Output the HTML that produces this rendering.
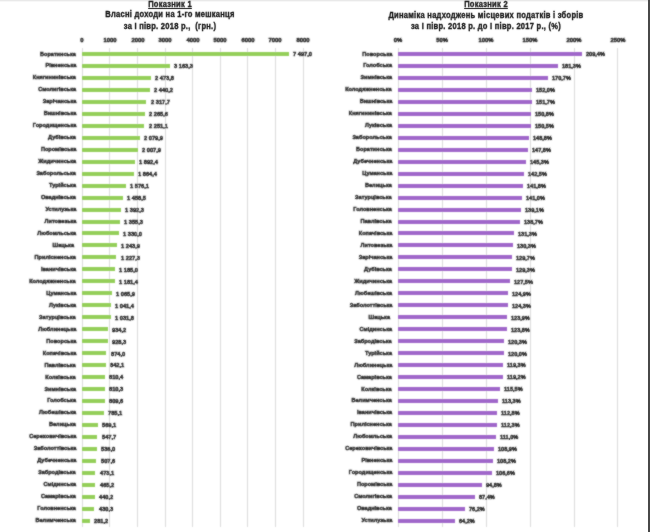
<!DOCTYPE html><html><head><meta charset="utf-8"><style>
html,body{margin:0;padding:0;background:#fff;}
body{width:650px;height:532px;position:relative;overflow:hidden;font-family:"Liberation Sans",sans-serif;}
#w{position:absolute;left:0;top:0;width:650px;height:532px;filter:url(#fb);}
#w2{position:absolute;left:0;top:0;width:650px;height:40px;filter:url(#fb2);}
.t{position:absolute;white-space:pre;font-weight:bold;color:#2b2b2b;line-height:1;-webkit-text-stroke:0.45px #2b2b2b;}
.c{font-size:6.2px;transform:scaleX(0.9);transform-origin:100% 50%;}
.v{font-size:6.0px;transform:scaleX(0.95);transform-origin:0 50%;}
.vr{transform:scaleX(0.93);}
.cr{transform:scaleX(0.9);}
.ax{font-size:6.0px;transform:scaleX(0.975);transform-origin:50% 50%;width:60px;text-align:center;}
.g{position:absolute;width:1px;background:#dcdcdc;top:48px;height:479px;}
.bg{position:absolute;height:4.0px;background:#95cf5a;}
.bp{position:absolute;height:4.0px;background:#a067ca;}
.ti{position:absolute;white-space:pre;font-weight:bold;color:#151515;font-size:9.0px;line-height:1;text-align:center;width:400px;-webkit-text-stroke:0.35px #151515;transform:scaleX(0.84);transform-origin:50% 50%;letter-spacing:0.3px;}
</style></head><body>
<svg width="0" height="0" style="position:absolute"><filter id="fb" x="0" y="0" width="650" height="532" filterUnits="userSpaceOnUse"><feConvolveMatrix order="3" kernelMatrix="1 2 1 2 12 2 1 2 1" edgeMode="none"/></filter><filter id="fb2" x="0" y="0" width="650" height="40" filterUnits="userSpaceOnUse"><feConvolveMatrix order="3" kernelMatrix="1 2 1 2 40 2 1 2 1" edgeMode="none"/></filter></svg>
<div style="position:absolute;left:0;top:0;width:650px;height:1px;background:#e9e9e9"></div>
<div style="position:absolute;left:0;top:1px;width:650px;height:1px;background:#f7f7f7"></div>
<div id="w">
<div class="g" style="left:81.90px"></div>
<div class="g" style="left:109.48px"></div>
<div class="g" style="left:137.05px"></div>
<div class="g" style="left:164.62px"></div>
<div class="g" style="left:192.20px"></div>
<div class="g" style="left:219.78px"></div>
<div class="g" style="left:247.35px"></div>
<div class="g" style="left:274.93px"></div>
<div class="g" style="left:302.50px"></div>
<div class="g" style="left:397.90px"></div>
<div class="g" style="left:441.80px"></div>
<div class="g" style="left:485.70px"></div>
<div class="g" style="left:529.60px"></div>
<div class="g" style="left:573.50px"></div>
<div class="g" style="left:617.40px"></div>
<div class="t ax" style="left:52.40px;top:36.70px">0</div>
<div class="t ax" style="left:79.98px;top:36.70px">1000</div>
<div class="t ax" style="left:107.55px;top:36.70px">2000</div>
<div class="t ax" style="left:135.12px;top:36.70px">3000</div>
<div class="t ax" style="left:162.70px;top:36.70px">4000</div>
<div class="t ax" style="left:190.28px;top:36.70px">5000</div>
<div class="t ax" style="left:217.85px;top:36.70px">6000</div>
<div class="t ax" style="left:245.43px;top:36.70px">7000</div>
<div class="t ax" style="left:273.00px;top:36.70px">8000</div>
<div class="t ax" style="left:368.40px;top:36.70px">0%</div>
<div class="t ax" style="left:412.30px;top:36.70px">50%</div>
<div class="t ax" style="left:456.20px;top:36.70px">100%</div>
<div class="t ax" style="left:500.10px;top:36.70px">150%</div>
<div class="t ax" style="left:544.00px;top:36.70px">200%</div>
<div class="t ax" style="left:587.90px;top:36.70px">250%</div>
<div class="bg" style="left:82.40px;top:52.00px;width:206.73px"></div>
<div class="t c" style="right:574.00px;top:50.50px">Боратинська</div>
<div class="t v" style="left:293.43px;top:51.40px">7 497,0</div>
<div class="bg" style="left:82.40px;top:63.97px;width:87.23px"></div>
<div class="t c" style="right:574.00px;top:62.47px">Рівненська</div>
<div class="t v" style="left:173.93px;top:63.37px">3 163,3</div>
<div class="bg" style="left:82.40px;top:75.93px;width:68.22px"></div>
<div class="t c" style="right:574.00px;top:74.43px">Княгининівська</div>
<div class="t v" style="left:154.92px;top:75.33px">2 473,8</div>
<div class="bg" style="left:82.40px;top:87.89px;width:67.29px"></div>
<div class="t c" style="right:574.00px;top:86.39px">Смолигівська</div>
<div class="t v" style="left:153.99px;top:87.30px">2 440,2</div>
<div class="bg" style="left:82.40px;top:99.86px;width:63.91px"></div>
<div class="t c" style="right:574.00px;top:98.36px">Зарічанська</div>
<div class="t v" style="left:150.61px;top:99.26px">2 317,7</div>
<div class="bg" style="left:82.40px;top:111.83px;width:62.47px"></div>
<div class="t c" style="right:574.00px;top:110.33px">Вишнівська</div>
<div class="t v" style="left:149.17px;top:111.23px">2 265,6</div>
<div class="bg" style="left:82.40px;top:123.79px;width:62.07px"></div>
<div class="t c" style="right:574.00px;top:122.29px">Городищенська</div>
<div class="t v" style="left:148.77px;top:123.19px">2 251,1</div>
<div class="bg" style="left:82.40px;top:135.75px;width:57.35px"></div>
<div class="t c" style="right:574.00px;top:134.25px">Дубівська</div>
<div class="t v" style="left:144.05px;top:135.16px">2 079,9</div>
<div class="bg" style="left:82.40px;top:147.72px;width:55.37px"></div>
<div class="t c" style="right:574.00px;top:146.22px">Поромівська</div>
<div class="t v" style="left:142.07px;top:147.12px">2 007,9</div>
<div class="bg" style="left:82.40px;top:159.69px;width:52.18px"></div>
<div class="t c" style="right:574.00px;top:158.19px">Жидичинська</div>
<div class="t v" style="left:138.88px;top:159.09px">1 892,4</div>
<div class="bg" style="left:82.40px;top:171.65px;width:51.41px"></div>
<div class="t c" style="right:574.00px;top:170.15px">Заборольська</div>
<div class="t v" style="left:138.11px;top:171.05px">1 864,4</div>
<div class="bg" style="left:82.40px;top:183.62px;width:43.46px"></div>
<div class="t c" style="right:574.00px;top:182.12px">Турійська</div>
<div class="t v" style="left:130.16px;top:183.02px">1 576,1</div>
<div class="bg" style="left:82.40px;top:195.58px;width:40.22px"></div>
<div class="t c" style="right:574.00px;top:194.08px">Оваднівська</div>
<div class="t v" style="left:126.92px;top:194.98px">1 458,5</div>
<div class="bg" style="left:82.40px;top:207.54px;width:38.39px"></div>
<div class="t c" style="right:574.00px;top:206.04px">Устилузька</div>
<div class="t v" style="left:125.09px;top:206.94px">1 392,3</div>
<div class="bg" style="left:82.40px;top:219.51px;width:37.37px"></div>
<div class="t c" style="right:574.00px;top:218.01px">Литовезька</div>
<div class="t v" style="left:124.07px;top:218.91px">1 355,3</div>
<div class="bg" style="left:82.40px;top:231.47px;width:36.67px"></div>
<div class="t c" style="right:574.00px;top:229.97px">Любомльська</div>
<div class="t v" style="left:123.37px;top:230.88px">1 330,0</div>
<div class="bg" style="left:82.40px;top:243.44px;width:34.30px"></div>
<div class="t c" style="right:574.00px;top:241.94px">Шацька </div>
<div class="t v" style="left:121.00px;top:242.84px">1 243,9</div>
<div class="bg" style="left:82.40px;top:255.40px;width:33.84px"></div>
<div class="t c" style="right:574.00px;top:253.90px">Прилісненська</div>
<div class="t v" style="left:120.54px;top:254.80px">1 227,3</div>
<div class="bg" style="left:82.40px;top:267.37px;width:32.68px"></div>
<div class="t c" style="right:574.00px;top:265.87px">Іваничівська</div>
<div class="t v" style="left:119.38px;top:266.77px">1 185,0</div>
<div class="bg" style="left:82.40px;top:279.34px;width:32.58px"></div>
<div class="t c" style="right:574.00px;top:277.84px">Колодяжненська</div>
<div class="t v" style="left:119.28px;top:278.74px">1 181,4</div>
<div class="bg" style="left:82.40px;top:291.30px;width:29.39px"></div>
<div class="t c" style="right:574.00px;top:289.80px">Цуманська</div>
<div class="t v" style="left:116.09px;top:290.70px">1 065,9</div>
<div class="bg" style="left:82.40px;top:303.26px;width:28.72px"></div>
<div class="t c" style="right:574.00px;top:301.76px">Луківська</div>
<div class="t v" style="left:115.42px;top:302.66px">1 041,4</div>
<div class="bg" style="left:82.40px;top:315.23px;width:28.45px"></div>
<div class="t c" style="right:574.00px;top:313.73px">Затурцівська</div>
<div class="t v" style="left:115.15px;top:314.63px">1 031,8</div>
<div class="bg" style="left:82.40px;top:327.19px;width:25.76px"></div>
<div class="t c" style="right:574.00px;top:325.69px">Люблинецька</div>
<div class="t v" style="left:112.46px;top:326.59px">934,2</div>
<div class="bg" style="left:82.40px;top:339.16px;width:25.60px"></div>
<div class="t c" style="right:574.00px;top:337.66px">Поворська</div>
<div class="t v" style="left:112.30px;top:338.56px">928,3</div>
<div class="bg" style="left:82.40px;top:351.12px;width:24.10px"></div>
<div class="t c" style="right:574.00px;top:349.62px">Копачівська</div>
<div class="t v" style="left:110.80px;top:350.52px">874,0</div>
<div class="bg" style="left:82.40px;top:363.09px;width:23.22px"></div>
<div class="t c" style="right:574.00px;top:361.59px">Павлівська</div>
<div class="t v" style="left:109.92px;top:362.49px">842,1</div>
<div class="bg" style="left:82.40px;top:375.06px;width:22.35px"></div>
<div class="t c" style="right:574.00px;top:373.56px">Колківська</div>
<div class="t v" style="left:109.05px;top:374.45px">810,4</div>
<div class="bg" style="left:82.40px;top:387.02px;width:22.34px"></div>
<div class="t c" style="right:574.00px;top:385.52px">Зимнівська</div>
<div class="t v" style="left:109.04px;top:386.42px">810,3</div>
<div class="bg" style="left:82.40px;top:398.99px;width:22.32px"></div>
<div class="t c" style="right:574.00px;top:397.49px">Голобська</div>
<div class="t v" style="left:109.02px;top:398.38px">809,6</div>
<div class="bg" style="left:82.40px;top:410.95px;width:21.65px"></div>
<div class="t c" style="right:574.00px;top:409.45px">Любешівська</div>
<div class="t v" style="left:108.35px;top:410.35px">785,1</div>
<div class="bg" style="left:82.40px;top:422.92px;width:15.69px"></div>
<div class="t c" style="right:574.00px;top:421.42px">Велицька</div>
<div class="t v" style="left:102.39px;top:422.31px">569,1</div>
<div class="bg" style="left:82.40px;top:434.88px;width:15.10px"></div>
<div class="t c" style="right:574.00px;top:433.38px">Сереховичівська</div>
<div class="t v" style="left:101.80px;top:434.28px">547,7</div>
<div class="bg" style="left:82.40px;top:446.84px;width:14.78px"></div>
<div class="t c" style="right:574.00px;top:445.34px">Заболоттівська</div>
<div class="t v" style="left:101.48px;top:446.24px">536,0</div>
<div class="bg" style="left:82.40px;top:458.81px;width:14.00px"></div>
<div class="t c" style="right:574.00px;top:457.31px">Дубечненська</div>
<div class="t v" style="left:100.70px;top:458.21px">507,6</div>
<div class="bg" style="left:82.40px;top:470.77px;width:13.05px"></div>
<div class="t c" style="right:574.00px;top:469.27px">Забродівська</div>
<div class="t v" style="left:99.75px;top:470.17px">473,1</div>
<div class="bg" style="left:82.40px;top:482.74px;width:12.83px"></div>
<div class="t c" style="right:574.00px;top:481.24px">Смідинська</div>
<div class="t v" style="left:99.53px;top:482.14px">465,2</div>
<div class="bg" style="left:82.40px;top:494.70px;width:12.14px"></div>
<div class="t c" style="right:574.00px;top:493.20px">Самарівська</div>
<div class="t v" style="left:98.84px;top:494.10px">440,2</div>
<div class="bg" style="left:82.40px;top:506.67px;width:11.87px"></div>
<div class="t c" style="right:574.00px;top:505.17px">Головненська</div>
<div class="t v" style="left:98.57px;top:506.07px">430,3</div>
<div class="bg" style="left:82.40px;top:518.63px;width:7.75px"></div>
<div class="t c" style="right:574.00px;top:517.13px">Велимченська</div>
<div class="t v" style="left:94.45px;top:518.03px">281,2</div>
<div class="bp" style="left:398.40px;top:52.00px;width:183.85px"></div>
<div class="t c cr" style="right:258.00px;top:50.50px">Поворська</div>
<div class="t v vr" style="left:586.25px;top:51.40px">209,4%</div>
<div class="bp" style="left:398.40px;top:63.97px;width:159.18px"></div>
<div class="t c cr" style="right:258.00px;top:62.47px">Голобська</div>
<div class="t v vr" style="left:561.58px;top:63.37px">181,3%</div>
<div class="bp" style="left:398.40px;top:75.93px;width:149.87px"></div>
<div class="t c cr" style="right:258.00px;top:74.43px">Зимнівська</div>
<div class="t v vr" style="left:552.27px;top:75.33px">170,7%</div>
<div class="bp" style="left:398.40px;top:87.89px;width:133.46px"></div>
<div class="t c cr" style="right:258.00px;top:86.39px">Колодяжненська</div>
<div class="t v vr" style="left:535.86px;top:87.30px">152,0%</div>
<div class="bp" style="left:398.40px;top:99.86px;width:133.19px"></div>
<div class="t c cr" style="right:258.00px;top:98.36px">Вишнівська</div>
<div class="t v vr" style="left:535.59px;top:99.26px">151,7%</div>
<div class="bp" style="left:398.40px;top:111.83px;width:132.40px"></div>
<div class="t c cr" style="right:258.00px;top:110.33px">Княгининівська</div>
<div class="t v vr" style="left:534.80px;top:111.23px">150,8%</div>
<div class="bp" style="left:398.40px;top:123.79px;width:132.14px"></div>
<div class="t c cr" style="right:258.00px;top:122.29px">Луківська</div>
<div class="t v vr" style="left:534.54px;top:123.19px">150,5%</div>
<div class="bp" style="left:398.40px;top:135.75px;width:130.65px"></div>
<div class="t c cr" style="right:258.00px;top:134.25px">Заборольська</div>
<div class="t v vr" style="left:533.05px;top:135.16px">148,8%</div>
<div class="bp" style="left:398.40px;top:147.72px;width:129.77px"></div>
<div class="t c cr" style="right:258.00px;top:146.22px">Боратинська</div>
<div class="t v vr" style="left:532.17px;top:147.12px">147,8%</div>
<div class="bp" style="left:398.40px;top:159.69px;width:127.57px"></div>
<div class="t c cr" style="right:258.00px;top:158.19px">Дубечненська</div>
<div class="t v vr" style="left:529.97px;top:159.09px">145,3%</div>
<div class="bp" style="left:398.40px;top:171.65px;width:125.12px"></div>
<div class="t c cr" style="right:258.00px;top:170.15px">Цуманська</div>
<div class="t v vr" style="left:527.51px;top:171.05px">142,5%</div>
<div class="bp" style="left:398.40px;top:183.62px;width:124.50px"></div>
<div class="t c cr" style="right:258.00px;top:182.12px">Велицька</div>
<div class="t v vr" style="left:526.90px;top:183.02px">141,8%</div>
<div class="bp" style="left:398.40px;top:195.58px;width:123.80px"></div>
<div class="t c cr" style="right:258.00px;top:194.08px">Затурцівська</div>
<div class="t v vr" style="left:526.20px;top:194.98px">141,0%</div>
<div class="bp" style="left:398.40px;top:207.54px;width:122.13px"></div>
<div class="t c cr" style="right:258.00px;top:206.04px">Головненська</div>
<div class="t v vr" style="left:524.53px;top:206.94px">139,1%</div>
<div class="bp" style="left:398.40px;top:219.51px;width:121.78px"></div>
<div class="t c cr" style="right:258.00px;top:218.01px">Павлівська</div>
<div class="t v vr" style="left:524.18px;top:218.91px">138,7%</div>
<div class="bp" style="left:398.40px;top:231.47px;width:115.28px"></div>
<div class="t c cr" style="right:258.00px;top:229.97px">Копачівська</div>
<div class="t v vr" style="left:517.68px;top:230.88px">131,3%</div>
<div class="bp" style="left:398.40px;top:243.44px;width:114.40px"></div>
<div class="t c cr" style="right:258.00px;top:241.94px">Литовезька</div>
<div class="t v vr" style="left:516.80px;top:242.84px">130,3%</div>
<div class="bp" style="left:398.40px;top:255.40px;width:113.88px"></div>
<div class="t c cr" style="right:258.00px;top:253.90px">Зарічанська</div>
<div class="t v vr" style="left:516.28px;top:254.80px">129,7%</div>
<div class="bp" style="left:398.40px;top:267.37px;width:113.53px"></div>
<div class="t c cr" style="right:258.00px;top:265.87px">Дубівська</div>
<div class="t v vr" style="left:515.93px;top:266.77px">129,3%</div>
<div class="bp" style="left:398.40px;top:279.34px;width:111.94px"></div>
<div class="t c cr" style="right:258.00px;top:277.84px">Жидичинська</div>
<div class="t v vr" style="left:514.35px;top:278.74px">127,5%</div>
<div class="bp" style="left:398.40px;top:291.30px;width:109.66px"></div>
<div class="t c cr" style="right:258.00px;top:289.80px">Любешівська</div>
<div class="t v vr" style="left:512.06px;top:290.70px">124,9%</div>
<div class="bp" style="left:398.40px;top:303.26px;width:109.14px"></div>
<div class="t c cr" style="right:258.00px;top:301.76px">Заболоттівська</div>
<div class="t v vr" style="left:511.54px;top:302.66px">124,3%</div>
<div class="bp" style="left:398.40px;top:315.23px;width:108.78px"></div>
<div class="t c cr" style="right:258.00px;top:313.73px">Шацька </div>
<div class="t v vr" style="left:511.18px;top:314.63px">123,9%</div>
<div class="bp" style="left:398.40px;top:327.19px;width:108.70px"></div>
<div class="t c cr" style="right:258.00px;top:325.69px">Смідинська</div>
<div class="t v vr" style="left:511.10px;top:326.59px">123,8%</div>
<div class="bp" style="left:398.40px;top:339.16px;width:105.62px"></div>
<div class="t c cr" style="right:258.00px;top:337.66px">Забродівська</div>
<div class="t v vr" style="left:508.02px;top:338.56px">120,3%</div>
<div class="bp" style="left:398.40px;top:351.12px;width:105.36px"></div>
<div class="t c cr" style="right:258.00px;top:349.62px">Турійська</div>
<div class="t v vr" style="left:507.76px;top:350.52px">120,0%</div>
<div class="bp" style="left:398.40px;top:363.09px;width:104.75px"></div>
<div class="t c cr" style="right:258.00px;top:361.59px">Люблинецька</div>
<div class="t v vr" style="left:507.15px;top:362.49px">119,3%</div>
<div class="bp" style="left:398.40px;top:375.06px;width:104.66px"></div>
<div class="t c cr" style="right:258.00px;top:373.56px">Самарівська</div>
<div class="t v vr" style="left:507.06px;top:374.45px">119,2%</div>
<div class="bp" style="left:398.40px;top:387.02px;width:101.41px"></div>
<div class="t c cr" style="right:258.00px;top:385.52px">Колківська</div>
<div class="t v vr" style="left:503.81px;top:386.42px">115,5%</div>
<div class="bp" style="left:398.40px;top:398.99px;width:99.48px"></div>
<div class="t c cr" style="right:258.00px;top:397.49px">Велимченська</div>
<div class="t v vr" style="left:501.88px;top:398.38px">113,3%</div>
<div class="bp" style="left:398.40px;top:410.95px;width:99.04px"></div>
<div class="t c cr" style="right:258.00px;top:409.45px">Іваничівська</div>
<div class="t v vr" style="left:501.44px;top:410.35px">112,8%</div>
<div class="bp" style="left:398.40px;top:422.92px;width:98.60px"></div>
<div class="t c cr" style="right:258.00px;top:421.42px">Прилісненська</div>
<div class="t v vr" style="left:501.00px;top:422.31px">112,3%</div>
<div class="bp" style="left:398.40px;top:434.88px;width:97.46px"></div>
<div class="t c cr" style="right:258.00px;top:433.38px">Любомльська</div>
<div class="t v vr" style="left:499.86px;top:434.28px">111,0%</div>
<div class="bp" style="left:398.40px;top:446.84px;width:95.61px"></div>
<div class="t c cr" style="right:258.00px;top:445.34px">Сереховичівська</div>
<div class="t v vr" style="left:498.01px;top:446.24px">108,9%</div>
<div class="bp" style="left:398.40px;top:458.81px;width:95.00px"></div>
<div class="t c cr" style="right:258.00px;top:457.31px">Рівненська</div>
<div class="t v vr" style="left:497.40px;top:458.21px">108,2%</div>
<div class="bp" style="left:398.40px;top:470.77px;width:93.59px"></div>
<div class="t c cr" style="right:258.00px;top:469.27px">Городищенська</div>
<div class="t v vr" style="left:495.99px;top:470.17px">106,6%</div>
<div class="bp" style="left:398.40px;top:482.74px;width:83.23px"></div>
<div class="t c cr" style="right:258.00px;top:481.24px">Поромівська</div>
<div class="t v vr" style="left:485.63px;top:482.14px">94,8%</div>
<div class="bp" style="left:398.40px;top:494.70px;width:76.74px"></div>
<div class="t c cr" style="right:258.00px;top:493.20px">Смолигівська</div>
<div class="t v vr" style="left:479.14px;top:494.10px">87,4%</div>
<div class="bp" style="left:398.40px;top:506.67px;width:66.90px"></div>
<div class="t c cr" style="right:258.00px;top:505.17px">Оваднівська</div>
<div class="t v vr" style="left:469.30px;top:506.07px">76,2%</div>
<div class="bp" style="left:398.40px;top:518.63px;width:56.37px"></div>
<div class="t c cr" style="right:258.00px;top:517.13px">Устилузька</div>
<div class="t v vr" style="left:458.77px;top:518.03px">64,2%</div>
</div><div id="w2">
<div class="ti" style="left:-30.00px;top:-0.50px;text-decoration:underline;">Показник 1</div>
<div class="ti" style="left:-30.00px;top:10.40px;">Власні доходи на 1-го мешканця</div>
<div class="ti" style="left:-30.00px;top:22.20px;">за І півр. 2018 р.,  (грн.)</div>
<div class="ti" style="left:286.00px;top:-0.50px;text-decoration:underline;">Показник 2</div>
<div class="ti" style="left:286.00px;top:10.70px;">Динаміка надходжень місцевих податків і зборів</div>
<div class="ti" style="left:286.00px;top:22.00px;">за І півр. 2018 р. до І півр. 2017 р., (%)</div>
</div>
<div style="position:absolute;left:647.5px;top:0;width:0.5px;height:532px;background:#999"></div>
<div style="position:absolute;left:648px;top:0;width:2px;height:532px;background:#484848"></div>
</body></html>
